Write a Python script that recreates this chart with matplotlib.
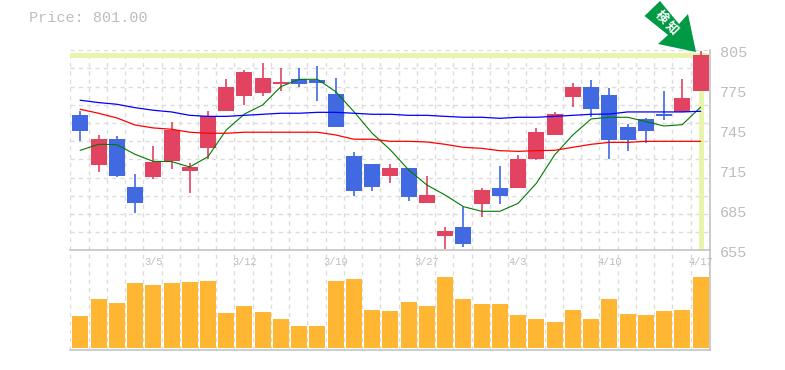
import matplotlib
matplotlib.use("Agg")
import matplotlib.pyplot as plt
from matplotlib.patches import Polygon

# ============================
# Datos
# ============================
opens = [759.1, 720.6, 740.6, 703.7, 711.4, 723.7, 716.0, 733.7, 762.2, 773.7, 776.0, 782.9,
         786.8, 786.0, 775.2, 727.5, 721.4, 712.2, 718.3, 691.4, 666.0, 673.0, 690.6, 702.9,
         702.9, 725.2, 743.7, 773.0, 780.6, 774.5, 749.8, 756.0, 759.8, 761.4, 777.5]
closes = [747.0, 740.6, 712.2, 691.4, 722.9, 747.5, 719.1, 758.3, 780.6, 792.1, 787.5, 784.5,
          782.9, 783.7, 749.8, 700.6, 703.7, 718.3, 696.0, 697.5, 669.9, 659.8, 701.4, 696.8,
          725.2, 746.0, 759.8, 780.6, 763.7, 739.8, 739.8, 746.8, 758.3, 772.2, 805.2]
highs = [762.4, 743.7, 742.9, 713.7, 735.2, 753.7, 722.2, 762.2, 786.8, 793.7, 799.1, 795.2,
         795.2, 796.8, 787.5, 730.6, 721.4, 721.4, 718.3, 712.2, 673.0, 688.3, 702.9, 719.8,
         728.3, 749.1, 761.4, 783.7, 786.0, 779.8, 752.2, 756.8, 777.5, 786.8, 808.3]
lows = [739.3, 715.2, 711.4, 683.7, 709.9, 717.5, 699.1, 725.2, 762.2, 766.8, 773.7, 777.5,
        780.6, 769.8, 749.8, 696.8, 700.6, 706.8, 693.0, 691.4, 656.0, 657.5, 680.6, 690.6,
        702.9, 724.5, 743.7, 765.2, 757.5, 725.2, 731.4, 737.5, 755.2, 761.4, 777.5]
ma_blue = [770.4, 768.6, 767.3, 764.7, 762.7, 761.4, 758.8, 758.0, 758.0, 758.8, 759.6, 760.4,
           760.4, 761.1, 761.1, 760.4, 759.6, 759.6, 758.8, 758.8, 758.0, 757.3, 757.3, 756.5,
           757.3, 757.3, 758.0, 758.8, 759.6, 759.8, 761.4, 761.4, 761.4, 761.4, 761.9]
ma_red = [763.4, 760.4, 756.8, 751.4, 749.1, 748.1, 745.8, 745.0, 745.0, 745.8, 745.8, 745.8,
          745.8, 745.8, 743.7, 740.4, 740.4, 738.8, 738.8, 738.3, 736.5, 734.2, 733.4, 731.6,
          731.1, 731.6, 731.9, 734.2, 736.5, 738.0, 738.0, 738.8, 738.8, 738.8, 738.8]
ma_green = [731.9, 736.5, 736.3, 728.8, 723.4, 723.2, 719.1, 727.0, 747.5, 759.8, 766.8, 780.9,
            786.5, 786.5, 777.0, 761.6, 745.0, 732.2, 716.8, 705.2, 697.5, 688.6, 685.0, 685.0,
            691.1, 706.5, 728.3, 743.7, 756.0, 757.3, 757.3, 754.0, 750.6, 751.6, 765.0]
volumes = [96, 147, 135, 195, 189, 195, 198, 201, 105, 126, 108, 87, 66, 66, 201, 207, 114, 111,
           138, 126, 213, 147, 132, 132, 99, 87, 78, 114, 87, 147, 102, 99, 111, 114, 213]
price_ticks = [805, 775, 745, 715, 685, 655]
date_labels = ["3/5", "3/12", "3/19", "3/27", "4/3", "4/10", "4/17"]
date_pos = [4, 9, 14, 19, 24, 29, 34]
last_price = 805

W, H = 785, 370
GREY = "#bdbdbd"
GRID = "#dcdcdc"
UP = "#e24360"
DOWN = "#4169e1"
HILITE = "#e6f5a8"
MONO = "Liberation Mono"
x = list(range(len(closes)))
xlim = (-0.548, 34.52)


def axes_px(left, top, right, bottom):
    return fig.add_axes([left / W, 1 - bottom / H, (right - left) / W, (bottom - top) / H])


fig = plt.figure(figsize=(W / 100, H / 100), dpi=100)

# ============================
# Panel de precios
# ============================
ax = axes_px(70.3, 50.3, 710, 250.3)
ax.set_xlim(*xlim)
ax.set_ylim(655, 808.8)

grid_x = [i + xlim[0] for i in range(36)]
for g in grid_x:
    ax.axvline(g, color=GRID, lw=1, ls=(0, (3, 3)), zorder=1)
for i in range(11):
    ax.axhline(808.8 - i * 13.98, color=GRID, lw=1, ls=(0, (3, 3)), zorder=1)

ax.axhline(last_price, color=HILITE, lw=3.5, zorder=2)
ax.plot([34, 34], [656.2, last_price], color=HILITE, lw=3.5, zorder=2)

colors = [UP if c >= o else DOWN for o, c in zip(opens, closes)]
ax.vlines(x, lows, highs, colors=colors, lw=1.2, zorder=3)
ax.bar(x, [abs(c - o) for o, c in zip(opens, closes)], bottom=[min(o, c) for o, c in zip(opens, closes)],
       width=16 / 18.24, color=colors, lw=0, zorder=4)

ax.plot(x, ma_green, color="#007a00", lw=0.8, zorder=5)
ax.plot(x, ma_red, color="#ff0000", lw=0.9, zorder=5)
ax.plot(x, ma_blue, color="#0000ff", lw=0.9, zorder=5)

ax.set_xticks([])
ax.set_yticks([])
for s in ["left", "top"]:
    ax.spines[s].set_visible(False)
for s in ["right", "bottom"]:
    ax.spines[s].set_color("#c4c4c4")
    ax.spines[s].set_linewidth(1.2)
ax.patch.set_alpha(0)

# ============================
# Panel de volumen
# ============================
ax2 = axes_px(70.3, 250.3, 710, 350.3)
ax2.set_xlim(*xlim)
ax2.set_ylim(-7, 293)
for g in grid_x:
    ax2.axvline(g, color=GRID, lw=1, ls=(0, (3, 3)), zorder=1)
ax2.bar(x, volumes, width=16 / 18.24, color="#ffb733", lw=0, zorder=3)
ax2.set_xticks([])
ax2.set_yticks([])
for s in ["left", "top"]:
    ax2.spines[s].set_visible(False)
for s in ["right", "bottom"]:
    ax2.spines[s].set_color("#c4c4c4")
    ax2.spines[s].set_linewidth(1.2)
ax2.patch.set_alpha(0)
for p, lab in zip(date_pos, date_labels):
    ax2.text(p, 259, lab, family=MONO, fontsize=7.4, color=GREY, ha="center", va="center", zorder=4)

# ============================
# Título, etiquetas y flecha
# ============================
fig.text(29 / W, 1 - 18 / H, "Price: 801.00", family=MONO, fontsize=10.9, color=GREY, ha="left", va="center")

ov = fig.add_axes([0, 0, 1, 1])
ov.set_xlim(0, W)
ov.set_ylim(H, 0)
ov.axis("off")
ov.patch.set_alpha(0)

# las etiquetas de precio van cada 40 px, no siguen exactamente la escala
for i, t in enumerate(price_ticks):
    ov.text(720, 53 + 40 * i, str(t), family=MONO, fontsize=10.9, color=GREY, ha="left", va="center")

arrow = [(660, 1), (644.5, 16), (668, 35), (658, 44), (696, 52), (688, 14), (679, 24)]
ov.add_patch(Polygon(arrow, closed=True, color="#009944", lw=0, zorder=6))
ov.text(661, 17, "検", family=["Noto Sans CJK JP", "DejaVu Sans"], fontsize=9, weight="bold", color="white",
        rotation=-45, ha="center", va="center", zorder=7)
ov.text(672, 28, "知", family=["Noto Sans CJK JP", "DejaVu Sans"], fontsize=9, weight="bold", color="white",
        rotation=-45, ha="center", va="center", zorder=7)

fig.savefig("out.png", dpi=100, facecolor="white")
